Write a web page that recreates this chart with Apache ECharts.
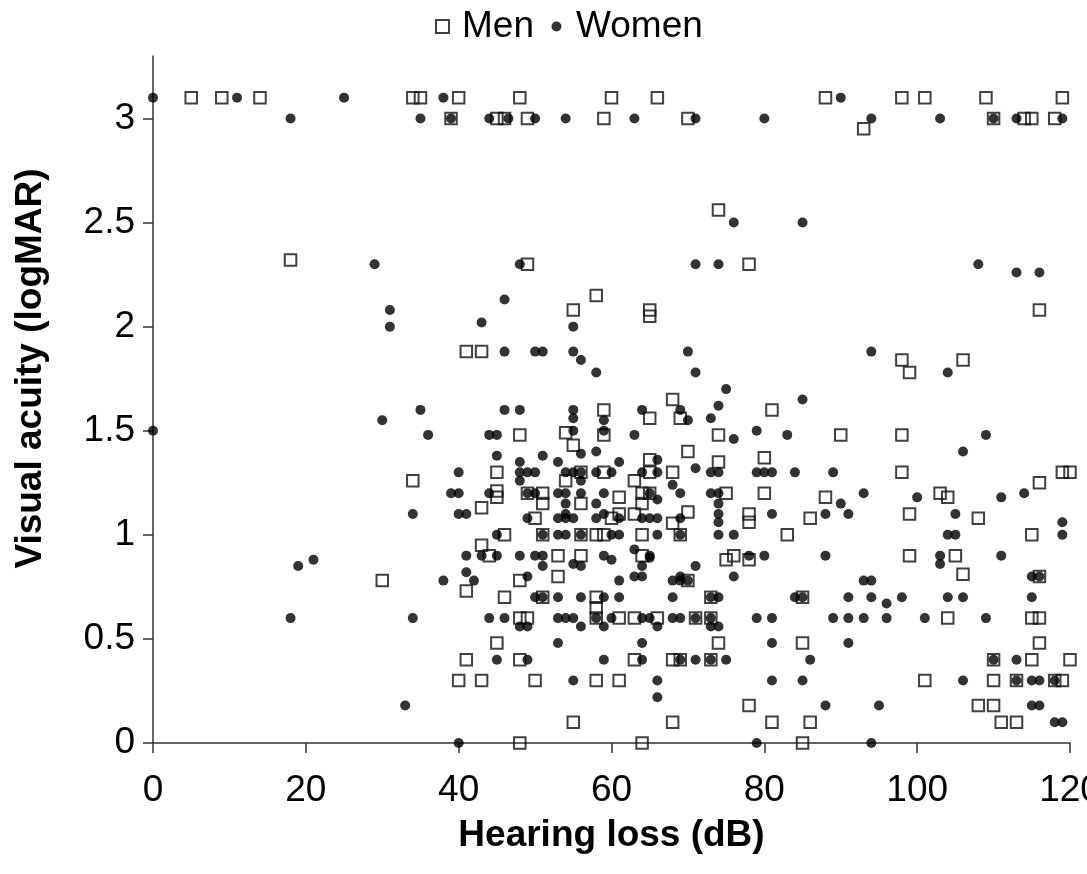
<!DOCTYPE html>
<html>
<head>
<meta charset="utf-8">
<script src="https://cdn.jsdelivr.net/npm/echarts@6/dist/echarts.min.js"></script>
<style>
html,body{margin:0;padding:0;background:#fff;}
#chart{width:1087px;height:874px;}
</style>
</head>
<body>
<div id="chart"></div>
<script>
var xTicks = [0, 20, 40, 60, 80, 100, 120];
var yTicks = [0, 0.5, 1, 1.5, 2, 2.5, 3];
var seriesNames = ['Men', 'Women'];

var menPoints = [
  [5,3.1],[9,3.1],[14,3.1],[34,3.1],[35,3.1],[40,3.1],[48,3.1],[60,3.1],[66,3.1],[88,3.1],[98,3.1],[101,3.1],[109,3.1],[119,3.1],
  [39,3],[45,3],[46,3],[49,3],[59,3],[70,3],[110,3],[114,3],[115,3],[118,3],[93,2.95],
  [74,2.56],[18,2.32],[49,2.3],[78,2.3],[116,2.08],[55,2.08],[58,2.15],[65,2.08],[65,2.05],
  [41,1.88],[43,1.88],[98,1.84],[106,1.84],[99,1.78],
  [59,1.6],[81,1.6],[65,1.56],[69,1.56],[68,1.65],[54,1.49],[59,1.48],[48,1.48],[74,1.48],[90,1.48],[98,1.48],
  [55,1.43],[70,1.4],[65,1.36],[74,1.35],[80,1.37],
  [45,1.3],[56,1.3],[59,1.3],[65,1.3],[68,1.3],[98,1.3],[119,1.3],[120,1.3],[34,1.26],[54,1.26],[63,1.26],[116,1.25],
  [45,1.21],[45,1.18],[49,1.2],[51,1.2],[64,1.2],[65,1.2],[75,1.2],[80,1.2],[103,1.2],[61,1.18],[88,1.18],[104,1.18],
  [51,1.15],[56,1.15],[64,1.15],[43,1.13],[70,1.11],[61,1.1],[63,1.1],[78,1.1],[99,1.1],[50,1.08],[60,1.08],[86,1.08],[108,1.08],[78,1.06],[68,1.055],
  [46,1],[51,1],[56,1],[58,1],[59,1],[64,1],[69,1],[83,1],[115,1],[43,0.95],
  [44,0.9],[53,0.9],[56,0.9],[64,0.9],[76,0.9],[99,0.9],[105,0.9],[75,0.88],[78,0.88],
  [53,0.8],[116,0.8],[106,0.81],[30,0.78],[48,0.78],[70,0.78],[41,0.73],
  [46,0.7],[51,0.7],[58,0.7],[73,0.7],[85,0.7],[58,0.65],
  [48,0.6],[49,0.6],[58,0.6],[61,0.6],[63,0.6],[66,0.6],[71,0.6],[73,0.6],[104,0.6],[115,0.6],[116,0.6],
  [45,0.48],[74,0.48],[85,0.48],[116,0.48],
  [41,0.4],[48,0.4],[63,0.4],[68,0.4],[69,0.4],[73,0.4],[110,0.4],[115,0.4],[120,0.4],
  [40,0.3],[43,0.3],[50,0.3],[58,0.3],[61,0.3],[101,0.3],[110,0.3],[113,0.3],[118,0.3],[119,0.3],
  [78,0.18],[108,0.18],[110,0.18],[55,0.1],[68,0.1],[81,0.1],[86,0.1],[111,0.1],[113,0.1],
  [48,0],[64,0],[85,0]
];

var womenPoints = [
  [0,3.1],[11,3.1],[25,3.1],[38,3.1],[90,3.1],
  [18,3],[35,3],[39,3],[44,3],[46.5,3],[50,3],[54,3],[63,3],[71,3],[80,3],[94,3],[103,3],[110,3],[113,3],[119,3],
  [76,2.5],[85,2.5],[29,2.3],[48,2.3],[71,2.3],[74,2.3],[108,2.3],[113,2.26],[116,2.26],
  [31,2.08],[31,2],[55,2],[46,2.13],[43,2.02],
  [46,1.88],[50,1.88],[51,1.88],[55,1.88],[70,1.88],[94,1.88],[56,1.84],[58,1.78],[71,1.78],[104,1.78],
  [35,1.6],[46,1.6],[48,1.6],[55,1.6],[64,1.6],[69,1.6],[74,1.62],[75,1.7],[85,1.65],[55,1.56],[73,1.56],
  [30,1.55],[59,1.55],[70,1.55],[0,1.5],[55,1.5],[59,1.5],[79,1.5],
  [36,1.48],[44,1.48],[45,1.48],[63,1.48],[83,1.48],[109,1.48],[76,1.46],[58,1.4],[106,1.4],[56,1.39],
  [45,1.38],[51,1.38],[48,1.35],[53,1.35],[61,1.35],[66,1.36],[71,1.32],
  [40,1.3],[48,1.3],[49,1.3],[50,1.3],[54,1.3],[55,1.3],[56,1.3],[58,1.3],[60,1.3],[64,1.3],[66,1.3],[73,1.3],[74,1.3],[79,1.3],[80,1.3],[81,1.3],[84,1.3],[89,1.3],
  [56,1.26],[48,1.26],[68,1.24],
  [39,1.2],[40,1.2],[44,1.2],[49,1.2],[50,1.2],[53,1.2],[54,1.2],[56,1.2],[59,1.2],[65,1.2],[69,1.2],[73,1.2],[74,1.2],[93,1.2],[114,1.2],
  [100,1.18],[111,1.18],[66,1.17],[54,1.15],[58,1.15],[74,1.15],[90,1.15],
  [34,1.1],[40,1.1],[41,1.1],[54,1.1],[59,1.1],[74,1.1],[81,1.1],[88,1.1],[91,1.1],[105,1.1],
  [49,1.08],[53,1.08],[54,1.08],[55,1.08],[58,1.08],[61,1.08],[64,1.08],[65,1.08],[66,1.08],[69,1.08],[74,1.06],[119,1.06],
  [45,1],[51,1],[53,1],[54,1],[56,1],[60,1],[61,1],[66,1],[69,1],[74,1],[76,1],[104,1],[105,1],[119,1],
  [63,0.93],[41,0.9],[43,0.9],[45,0.9],[48,0.9],[50,0.9],[51,0.9],[59,0.9],[65,0.9],[78,0.9],[80,0.9],[88,0.9],[111,0.9],[103,0.9],
  [21,0.88],[60,0.88],[65,0.89],[103,0.86],[19,0.85],[51,0.85],[55,0.86],[56,0.85],[64,0.85],[71,0.85],[41,0.82],
  [49,0.8],[63,0.8],[64,0.8],[69,0.8],[76,0.8],[115,0.8],[116,0.8],
  [38,0.78],[42,0.78],[61,0.78],[68,0.78],[69,0.78],[70,0.78],[93,0.78],[94,0.78],
  [50,0.7],[51,0.7],[53,0.7],[56,0.7],[59,0.7],[61,0.7],[68,0.7],[73,0.7],[74,0.7],[84,0.7],[85,0.7],[91,0.7],[94,0.7],[98,0.7],[104,0.7],[106,0.7],[115,0.7],[96,0.67],
  [18,0.6],[34,0.6],[44,0.6],[46,0.6],[53,0.6],[54,0.6],[55,0.6],[58,0.6],[60,0.6],[64,0.6],[65,0.6],[68,0.6],[69,0.6],[71,0.6],[73,0.6],[79,0.6],[81,0.6],[89,0.6],[91,0.6],[93,0.6],[96,0.6],[101,0.6],[109,0.6],
  [48,0.56],[49,0.56],[56,0.56],[59,0.56],[66,0.56],[73,0.56],[74,0.56],
  [53,0.48],[64,0.48],[81,0.48],[91,0.48],
  [45,0.4],[49,0.4],[59,0.4],[64,0.4],[69,0.4],[71,0.4],[73,0.4],[75,0.4],[86,0.4],[110,0.4],[113,0.4],
  [55,0.3],[66,0.3],[81,0.3],[85,0.3],[106,0.3],[113,0.3],[115,0.3],[116,0.3],[118,0.3],[66,0.22],
  [33,0.18],[88,0.18],[95,0.18],[115,0.18],[116,0.18],[118,0.1],[119,0.1],
  [40,0],[79,0],[94,0]
];

var chart = echarts.init(document.getElementById('chart'));
var font = 'Liberation Sans, Arial, sans-serif';
chart.setOption({
  animation: false,
  backgroundColor: '#fff',
  legend: {
    top: 8,
    left: 435,
    padding: 0,
    itemGap: 16,
    itemWidth: 13,
    itemHeight: 13,
    textStyle: { fontFamily: font, fontSize: 37, color: '#000', padding: [0, 0, 0, 8] },
    data: [
      { name: seriesNames[0], icon: 'rect' },
      { name: seriesNames[1], icon: 'path://M0,0M13,13M1.5,6.5a5,5 0 1,0 10,0a5,5 0 1,0 -10,0z' }
    ]
  },
  grid: { left: 153, right: 17, top: 56, bottom: 131, containLabel: false, outerBoundsMode: 'none' },
  xAxis: {
    type: 'value', min: 0, max: 120, interval: 20,
    name: 'Hearing loss (dB)', nameLocation: 'middle', nameGap: 74,
    nameTextStyle: { fontFamily: font, fontSize: 37, fontWeight: 'bold', color: '#000' },
    axisLine: { show: true, lineStyle: { color: '#333', width: 1.5 } },
    axisTick: { show: true, length: 10, lineStyle: { color: '#333', width: 1.5 }, customValues: xTicks },
    axisLabel: { fontFamily: font, fontSize: 37, color: '#000', margin: 29, customValues: xTicks, hideOverlap: false },
    splitLine: { show: false }
  },
  yAxis: {
    type: 'value', min: 0, max: 3.3,
    name: 'Visual acuity (logMAR)', nameLocation: 'middle', nameGap: 104,
    nameTextStyle: { fontFamily: font, fontSize: 37, fontWeight: 'bold', color: '#000', padding: [0, 0, 0, 62] },
    axisLine: { show: true, lineStyle: { color: '#333', width: 1.5 } },
    axisTick: { show: true, length: 10, lineStyle: { color: '#333', width: 1.5 }, customValues: yTicks },
    axisLabel: { fontFamily: font, fontSize: 37, color: '#000', margin: 18, customValues: yTicks },
    splitLine: { show: false }
  },
  series: [
    {
      name: seriesNames[0], type: 'scatter', symbol: 'rect', symbolSize: 11.5,
      itemStyle: { color: 'rgba(255,255,255,0)', borderColor: '#111', borderWidth: 2 },
      data: menPoints, z: 2
    },
    {
      name: seriesNames[1], type: 'scatter', symbol: 'circle', symbolSize: 10,
      itemStyle: { color: '#000' },
      data: womenPoints, z: 3
    }
  ]
});
</script>
</body>
</html>
